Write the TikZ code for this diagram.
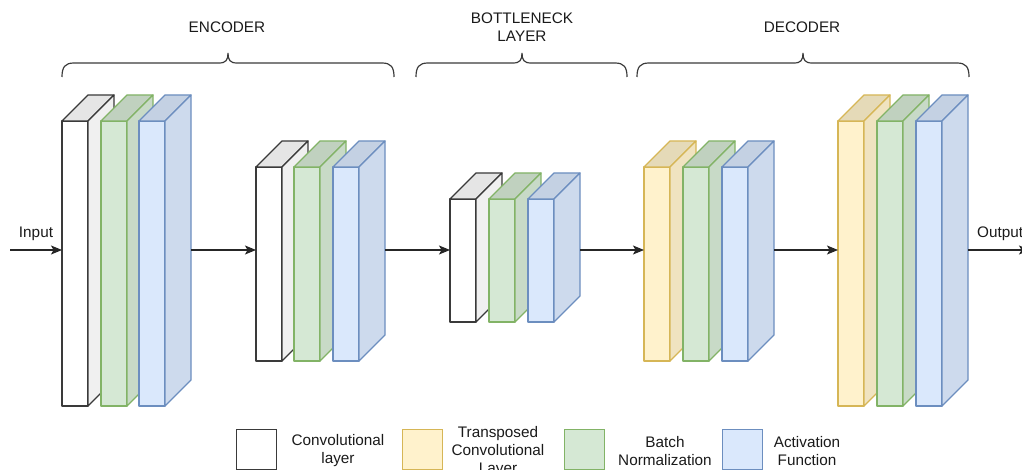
\documentclass[tikz,border=0pt]{standalone}
\usepackage{fontspec}
\setmainfont{Liberation Sans}
\usetikzlibrary{arrows.meta}
\definecolor{convfill}{HTML}{FFFFFF}
\definecolor{convdraw}{HTML}{3A3A3A}
\definecolor{tconvfill}{HTML}{FFF2CC}
\definecolor{tconvdraw}{HTML}{D6B656}
\definecolor{bnfill}{HTML}{D5E8D4}
\definecolor{bndraw}{HTML}{82B366}
\definecolor{actfill}{HTML}{DAE8FC}
\definecolor{actdraw}{HTML}{6C8EBF}
\definecolor{txt}{HTML}{1A1A1A}
\newcommand\drawslab[5]{%
  \filldraw[slabline, draw=#5, fill=#4] (#1,#2) rectangle (#1+26,#3);
  \filldraw[slabline, draw=#5, fill=#4!90!black] (#1,#2) -- (#1+26,#2) -- (#1+52,#2-26) -- (#1+26,#2-26) -- cycle;
  \filldraw[slabline, draw=#5, fill=#4!94!black] (#1+26,#2) -- (#1+52,#2-26) -- (#1+52,#3-26) -- (#1+26,#3) -- cycle;
}
\newcommand\drawbrace[3]{%
  \draw[bracel] (#1,77) .. controls (#1,67) and (#1+3,63) .. (#1+12,63) -- (#3-9,63)
    .. controls (#3-2,63) and (#3,60) .. (#3,53)
    .. controls (#3,60) and (#3+2,63) .. (#3+9,63) -- (#2-12,63)
    .. controls (#2-3,63) and (#2,67) .. (#2,77);
}
\begin{document}
\begin{tikzpicture}[x=1pt,y=-1pt,
  slabline/.style={line width=1.25pt, line join=round},
  bracel/.style={line width=1.2pt, draw=convdraw},
  arr/.style={line width=1.25pt, draw=black!85, -{Stealth[length=11pt,width=9pt,inset=2.5pt]}},
  lbl/.style={inner sep=0pt, text=txt, font=\fontsize{15.3}{18}\selectfont, align=center},
  legbox/.style={line width=1.25pt, minimum width=40pt, minimum height=40pt, inner sep=0pt, anchor=north west}]
\useasboundingbox (0,0) rectangle (1022,470);

% headers and braces
\node[lbl] (henc) at (227,27) {ENCODER};
\node[lbl] (hbot) at (522,27) {BOTTLENECK\\LAYER};
\node[lbl] (hdec) at (802,27) {DECODER};
\drawbrace{62}{394}{228}
\drawbrace{416}{627}{522}
\drawbrace{637}{969}{803}

% block 1 (encoder)
\drawslab{62}{121}{406}{convfill}{convdraw}
\drawslab{101}{121}{406}{bnfill}{bndraw}
\drawslab{139}{121}{406}{actfill}{actdraw}
% block 2 (encoder)
\drawslab{256}{167}{361}{convfill}{convdraw}
\drawslab{294}{167}{361}{bnfill}{bndraw}
\drawslab{333}{167}{361}{actfill}{actdraw}
% block 3 (bottleneck)
\drawslab{450}{199}{322}{convfill}{convdraw}
\drawslab{489}{199}{322}{bnfill}{bndraw}
\drawslab{528}{199}{322}{actfill}{actdraw}
% block 4 (decoder)
\drawslab{644}{167}{361}{tconvfill}{tconvdraw}
\drawslab{683}{167}{361}{bnfill}{bndraw}
\drawslab{722}{167}{361}{actfill}{actdraw}
% block 5 (decoder)
\drawslab{838}{121}{406}{tconvfill}{tconvdraw}
\drawslab{877}{121}{406}{bnfill}{bndraw}
\drawslab{916}{121}{406}{actfill}{actdraw}

% connection points
\coordinate (start) at (10,250);
\coordinate (b1in) at (62,250);   \coordinate (b1out) at (191,250);
\coordinate (b2in) at (256,250);  \coordinate (b2out) at (385,250);
\coordinate (b3in) at (450,250);  \coordinate (b3out) at (580,250);
\coordinate (b4in) at (644,250);  \coordinate (b4out) at (774,250);
\coordinate (b5in) at (838,250);  \coordinate (b5out) at (968,250);
\coordinate (finish) at (1030,250);

\draw[arr] (start) -- (b1in);
\draw[arr] (b1out) -- (b2in);
\draw[arr] (b2out) -- (b3in);
\draw[arr] (b3out) -- (b4in);
\draw[arr] (b4out) -- (b5in);
\draw[arr] (b5out) -- (finish);

\node[lbl, anchor=base] (inlbl) at (36,238) {Input};
\node[lbl, anchor=base west] (outlbl) at (977,238) {Output};

% legend
\node[legbox, draw=convdraw, fill=convfill] (lg1) at (236,429) {};
\node[lbl] (lt1) at (338,451) {Convolutional\\layer};
\node[legbox, draw=tconvdraw, fill=tconvfill] (lg2) at (402,429) {};
\node[lbl] (lt2) at (498,452) {Transposed\\Convolutional\\Layer};
\node[legbox, draw=bndraw, fill=bnfill] (lg3) at (564,429) {};
\node[lbl] (lt3) at (665,451) {Batch\\Normalization};
\node[legbox, draw=actdraw, fill=actfill] (lg4) at (722,429) {};
\node[lbl] (lt4) at (807,451) {Activation\\Function};
\end{tikzpicture}
\end{document}
